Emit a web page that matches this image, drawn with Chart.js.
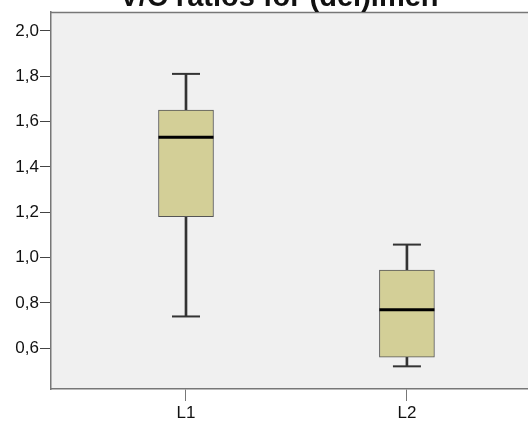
<!DOCTYPE html>
<html>
<head>
<meta charset="utf-8">
<script src="https://cdn.jsdelivr.net/npm/chart.js@4.4.0/dist/chart.umd.min.js"></script>
<style>
  html, body { margin: 0; padding: 0; background: #fff; overflow: hidden; }
  #wrap { position: relative; width: 528px; height: 421px; overflow: hidden; }
  #title {
    position: absolute; left: 0; top: -18px; width: 528px; text-align: center;
    font: bold 29px "Liberation Sans", Arial, sans-serif; line-height: 29px; color: #111;
    padding-left: 30px; box-sizing: border-box; white-space: nowrap;
  }
  canvas { position: absolute; left: 0; top: 0; }
</style>
</head>
<body>
<div id="wrap">
  <canvas id="myChart" width="528" height="421"></canvas>
  <div id="title">V/C ratios for (del)imen</div>
</div>
<script>
// box plot values
var categories = ['L1', 'L2'];
var minValues = [0.74, 0.52];
var q1Values = [1.18, 0.56];
var medianValues = [1.53, 0.77];
var q3Values = [1.65, 0.945];
var maxValues = [1.81, 1.057];
var yTicks = [0.6, 0.8, 1.0, 1.2, 1.4, 1.6, 1.8, 2.0];

var boxData = [], lowData = [], highData = [], capData = [], medData = [];
for (var i = 0; i < categories.length; i++) {
    var x = i + 1;
    boxData.push({x: x, y: [q1Values[i], q3Values[i]]});
    lowData.push({x: x, y: [minValues[i], q1Values[i]]});
    highData.push({x: x, y: [q3Values[i], maxValues[i]]});
    capData.push({x: x, y: minValues[i]});
    capData.push({x: x, y: maxValues[i]});
    medData.push({x: x, y: medianValues[i]});
}

// grey plot background plus top frame line
var plotFrame = {
    id: 'plotFrame',
    beforeDraw: function(chart) {
        var a = chart.chartArea, ctx = chart.ctx;
        ctx.save();
        ctx.fillStyle = '#f0f0f0';
        ctx.fillRect(a.left, a.top, a.right - a.left, a.bottom - a.top);
        ctx.restore();
    },
    afterDraw: function(chart) {
        var a = chart.chartArea, ctx = chart.ctx;
        ctx.save();
        ctx.strokeStyle = '#777';
        ctx.lineWidth = 1.5;
        ctx.beginPath();
        ctx.moveTo(a.left, a.top + 0.5);
        ctx.lineTo(a.right, a.top + 0.5);
        ctx.stroke();
        ctx.restore();
    }
};

var font = {family: '"Liberation Sans", Arial, sans-serif', size: 17};

var ctx = document.getElementById('myChart').getContext('2d');
var chart = new Chart(ctx, {
    type: 'bar',
    data: {
        // first dataset is drawn on top
        datasets: [{
            type: 'scatter',
            data: medData,
            pointStyle: 'line',
            radius: 27.5,
            borderWidth: 3,
            borderColor: '#000'
        }, {
            type: 'scatter',
            data: capData,
            pointStyle: 'line',
            radius: 14,
            borderWidth: 2,
            borderColor: '#333'
        }, {
            data: boxData,
            grouped: false,
            barThickness: 55,
            backgroundColor: '#d3cf97',
            borderColor: '#555',
            borderWidth: 1,
            borderSkipped: false
        }, {
            data: lowData,
            grouped: false,
            barThickness: 2,
            backgroundColor: '#333',
            borderWidth: 0
        }, {
            data: highData,
            grouped: false,
            barThickness: 2,
            backgroundColor: '#333',
            borderWidth: 0
        }]
    },
    options: {
        responsive: false,
        animation: false,
        layout: {autoPadding: false, padding: {top: 12, right: 0, left: 0, bottom: 0}},
        plugins: {legend: {display: false}, tooltip: {enabled: false}},
        scales: {
            x: {
                type: 'linear',
                offset: false,
                min: 0.389,
                max: 2.548,
                afterBuildTicks: function(axis) {
                    axis.ticks = categories.map(function(c, i) { return {value: i + 1}; });
                },
                afterFit: function(axis) { axis.height = 32; },
                ticks: {
                    callback: function(v) { return categories[v - 1] || ''; },
                    color: '#111',
                    font: font,
                    padding: 2,
                    maxRotation: 0
                },
                grid: {offset: false, drawOnChartArea: false, drawTicks: true, tickLength: 12, color: '#777'},
                border: {color: '#777', width: 1.5}
            },
            y: {
                min: 0.42,
                max: 2.083,
                afterBuildTicks: function(axis) {
                    axis.ticks = yTicks.map(function(v) { return {value: v}; });
                },
                afterFit: function(axis) { axis.width = 51; },
                ticks: {
                    callback: function(v) { return v.toFixed(1).replace('.', ','); },
                    color: '#111',
                    font: font,
                    padding: 1
                },
                grid: {drawOnChartArea: false, drawTicks: true, tickLength: 11, color: '#444'},
                border: {color: '#777', width: 1.5}
            }
        }
    },
    plugins: [plotFrame]
});
</script>
</body>
</html>
